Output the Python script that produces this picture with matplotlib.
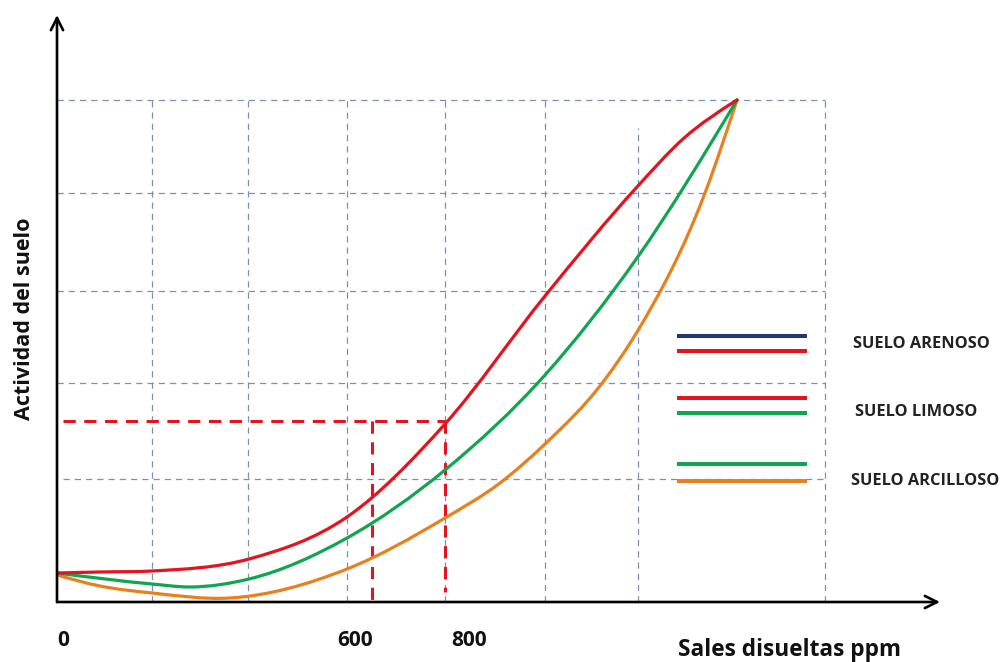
import matplotlib
matplotlib.use("Agg")
import matplotlib.pyplot as plt
from matplotlib.path import Path
from matplotlib.patches import PathPatch

# ---------------- data (x: ppm, y: relative activity) ----------------
red_x = [0, 86, 190, 384, 580, 776, 976, 1160, 1252, 1360]
red_y = [5.8, 6.0, 6.2, 8.6, 17.0, 35.6, 61.2, 83.0, 92.6, 100.4]

green_x = [0, 190, 266, 384, 580, 776, 976, 1160, 1360]
green_y = [5.8, 3.6, 3.0, 4.6, 12.8, 26.4, 45.4, 68.8, 100.4]

orange_x = [0, 86, 190, 346, 580, 776, 886, 976, 1092, 1160, 1296, 1360]
orange_y = [5.4, 3.2, 1.8, 0.8, 6.6, 16.8, 23.8, 31.6, 44.0, 54.0, 81.8, 100.4]

grid_x = [190, 382, 580, 776, 976, 1162, 1536]
grid_x_top = [100.4, 100.4, 100.4, 100.4, 100.4, 94.8, 100.4]
grid_y = [24.6, 43.8, 62.2, 81.8, 100.4]

ref_y = 36.2
ref_x = [630, 776]
ref_x_bottom = [0, 2]

tick_labels = ["0", "600", "800"]
tick_pos = [12, 596, 824]

legend_labels = ["SUELO ARENOSO", "SUELO LIMOSO", "SUELO ARCILLOSO"]
legend_text_y = [51.6, 38.0, 24.2]
legend_line_y = [[53.2, 50.2], [40.8, 37.8], [27.6, 24.2]]
legend_line_colors = [["#1f3a6e", "#e3141d"], ["#e3141d", "#10a550"], ["#10a550", "#e8801e"]]
legend_x = [1240, 1500]
legend_text_x = [1592, 1596, 1588]

x_label = "Sales disueltas ppm"
y_label = "Actividad del suelo"

RED, GREEN, ORANGE = "#e3141d", "#10a550", "#e8801e"
GRID = "#7a8fba"
FONT = "Open Sans"


def smooth_path(xs, ys):
    """Smoothed line through the points (cubic Hermite in x, drawn as Bezier curves)."""
    n = len(xs)
    h = [xs[i + 1] - xs[i] for i in range(n - 1)]
    d = [(ys[i + 1] - ys[i]) / h[i] for i in range(n - 1)]
    m = [0.0] * n
    for i in range(1, n - 1):
        m[i] = (d[i - 1] * h[i] + d[i] * h[i - 1]) / (h[i - 1] + h[i])
    m[0] = 1.5 * d[0] - 0.5 * m[1]
    m[-1] = 1.5 * d[-1] - 0.5 * m[-2]
    verts = [(xs[0], ys[0])]
    codes = [Path.MOVETO]
    for i in range(n - 1):
        c1 = (xs[i] + h[i] / 3, ys[i] + m[i] * h[i] / 3)
        c2 = (xs[i + 1] - h[i] / 3, ys[i + 1] - m[i + 1] * h[i] / 3)
        verts += [c1, c2, (xs[i + 1], ys[i + 1])]
        codes += [Path.CURVE4] * 3
    return Path(verts, codes)


# ---------------- figure ----------------
W, H = 1001, 662
fig = plt.figure(figsize=(W / 100, H / 100), dpi=100)
fig.patch.set_facecolor("white")
ax = fig.add_axes([57 / W, 60 / H, 883 / W, 587 / H])
ax.set_xlim(0, 1766)
ax.set_ylim(0, 117.4)
ax.axis("off")

# grid
for gx, top in zip(grid_x, grid_x_top):
    ax.plot([gx, gx], [0, top], color=GRID, lw=0.9, dashes=(5, 4), zorder=1)
for i, gy in enumerate(grid_y):
    ax.plot([12 if i == 0 else 0, grid_x[-1]], [gy, gy], color=GRID, lw=0.9, dashes=(5, 4), zorder=1)

# reference dashed red lines
ax.plot([12, ref_x[1]], [ref_y, ref_y], color=RED, lw=2.2, dashes=(4, 2.8), zorder=3)
for rx, rb in zip(ref_x, ref_x_bottom):
    ax.plot([rx, rx], [ref_y, rb], color=RED, lw=2.2, dashes=(4, 2.8), zorder=3)

# curves
for xs, ys, c, z in [(orange_x, orange_y, ORANGE, 4), (green_x, green_y, GREEN, 5), (red_x, red_y, RED, 6)]:
    ax.add_patch(PathPatch(smooth_path(xs, ys), facecolor="none", edgecolor=c, lw=2.3,
                           capstyle="round", joinstyle="round", zorder=z))

# axes arrows
arrow = dict(arrowstyle="->", lw=1.9, color="black", mutation_scale=22, shrinkA=0, shrinkB=0)
ax.annotate("", xy=(1766, 0), xytext=(0, 0), arrowprops=arrow, annotation_clip=False, zorder=7)
ax.annotate("", xy=(0, 117.4), xytext=(0, 0), arrowprops=arrow, annotation_clip=False, zorder=7)

# legend
for ys, cs in zip(legend_line_y, legend_line_colors):
    for yv, c in zip(ys, cs):
        ax.plot(legend_x, [yv, yv], color=c, lw=2.9, solid_capstyle="butt", zorder=5)
for lab, tx, ty in zip(legend_labels, legend_text_x, legend_text_y):
    ax.text(tx, ty, lab, ha="left", va="center", fontsize=11.8, fontweight="bold",
            family=FONT, color="#222222", clip_on=False)

# tick labels
for lab, tp in zip(tick_labels, tick_pos):
    ax.text(tp, -7.6, lab, ha="center", va="center", fontsize=15, fontweight="bold",
            family=FONT, color="#111111", clip_on=False)

# axis labels
fig.text(789 / W, 1 - 650 / H, x_label, ha="center", va="center", fontsize=16.3,
         fontweight="bold", family=FONT, color="#111111")
fig.text(25 / W, 1 - 319 / H, y_label, ha="center", va="center", rotation=90, fontsize=15.5,
         fontweight="bold", family=FONT, color="#111111")

fig.savefig("out.png", dpi=100, facecolor="white")
